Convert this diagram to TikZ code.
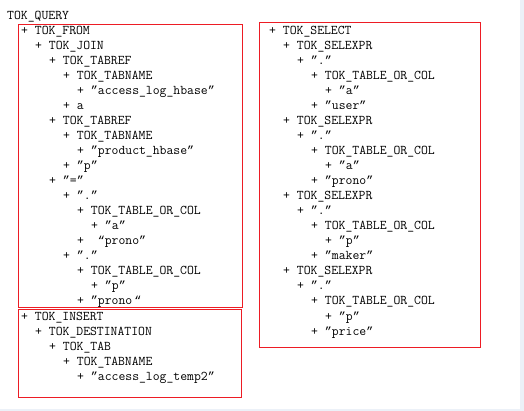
\documentclass[tikz,border=0pt]{standalone}
\usepackage{fontspec}
\newfontfamily\quotefont{Liberation Mono}
\newcommand{\qc}{{\quotefont\fontsize{11.67}{15}\selectfont ”}}
\newcommand{\qo}{{\quotefont\fontsize{11.67}{15}\selectfont “}}
\definecolor{boxred}{RGB}{237,28,36}
\definecolor{edgegrey}{RGB}{236,241,248}
\begin{document}
\begin{tikzpicture}[x=1pt,y=-1pt,
  tok/.style={anchor=base west,inner sep=0pt,font=\ttfamily\fontsize{13.33}{15}\selectfont},
  redbox/.style={draw=boxred,line width=1pt}]
\useasboundingbox (0,0) rectangle (524,411);
\fill[white] (0,0) rectangle (524,411);
\fill[edgegrey] (520,0) rectangle (524,411);
\fill[edgegrey] (0,409) rectangle (524,411);
% boxes
\draw[redbox] (18.5,24.5) rectangle (242.5,307.5);
\draw[redbox] (259.5,22.5) rectangle (480.5,347.5);
\draw[redbox] (18.5,309.5) rectangle (241.5,397.5);
% left column
\node[tok] (query) at (7,20) {TOK\_QUERY};
\node[tok] (from) at (21,35) {+ TOK\_FROM};
\node[tok] (join) at (35,50) {+ TOK\_JOIN};
\node[tok] (tabrefa) at (49,65) {+ TOK\_TABREF};
\node[tok] (tabnamea) at (63,80) {+ TOK\_TABNAME};
\node[tok] (hbase) at (77,95) {+ \qc access\_log\_hbase\qc};
\node[tok] (aliasa) at (63,110) {+ a};
\node[tok] (tabrefp) at (49,125) {+ TOK\_TABREF};
\node[tok] (tabnamep) at (63,140) {+ TOK\_TABNAME};
\node[tok] (prodhbase) at (77,155) {+ \qc product\_hbase\qc};
\node[tok] (aliasp) at (63,170) {+ \qc p\qc};
\node[tok] (eq) at (49,185) {+ \qc=\qc};
\node[tok] (dota) at (63,200) {+ \qc.\qc};
\node[tok] (colla) at (77,215) {+ TOK\_TABLE\_OR\_COL};
\node[tok] (cola) at (91,230) {+ \qc a\qc};
\node[tok] (pronoa) at (77,245) {+ \ \qo prono\qc};
\node[tok] (dotp) at (63,260) {+ \qc.\qc};
\node[tok] (collp) at (77,275) {+ TOK\_TABLE\_OR\_COL};
\node[tok] (colp) at (91,290) {+ \qc p\qc};
\node[tok] (pronop) at (77,305) {+ \qc prono\,\qo};
\node[tok] (insert) at (21,320) {+ TOK\_INSERT};
\node[tok] (dest) at (35,335) {+ TOK\_DESTINATION};
\node[tok] (tab) at (49,350) {+ TOK\_TAB};
\node[tok] (tabnamet) at (63,365) {+ TOK\_TABNAME};
\node[tok] (temp) at (77,380) {+ \qc access\_log\_temp2\qc};
% right column
\node[tok] (select) at (269,35) {+ TOK\_SELECT};
\node[tok] (selexa) at (283,50) {+ TOK\_SELEXPR};
\node[tok] (sdota) at (297,65) {+ \qc.\qc};
\node[tok] (scolla) at (311,80) {+ TOK\_TABLE\_OR\_COL};
\node[tok] (sa) at (325,95) {+ \qc a\qc};
\node[tok] (user) at (311,110) {+ \qc user\qc};
\node[tok] (selexb) at (283,125) {+ TOK\_SELEXPR};
\node[tok] (sdotb) at (297,140) {+ \qc.\qc};
\node[tok] (scollb) at (311,155) {+ TOK\_TABLE\_OR\_COL};
\node[tok] (sb) at (325,170) {+ \qc a\qc};
\node[tok] (sprono) at (311,185) {+ \qc prono\qc};
\node[tok] (selexc) at (283,200) {+ TOK\_SELEXPR};
\node[tok] (sdotc) at (297,215) {+ \qc.\qc};
\node[tok] (scollc) at (311,230) {+ TOK\_TABLE\_OR\_COL};
\node[tok] (sc) at (325,245) {+ \qc p\qc};
\node[tok] (maker) at (311,260) {+ \qc maker\qc};
\node[tok] (selexd) at (283,275) {+ TOK\_SELEXPR};
\node[tok] (sdotd) at (297,290) {+ \qc.\qc};
\node[tok] (scolld) at (311,305) {+ TOK\_TABLE\_OR\_COL};
\node[tok] (sd) at (325,320) {+ \qc p\qc};
\node[tok] (price) at (311,335) {+ \qc price\qc};
\end{tikzpicture}
\end{document}
